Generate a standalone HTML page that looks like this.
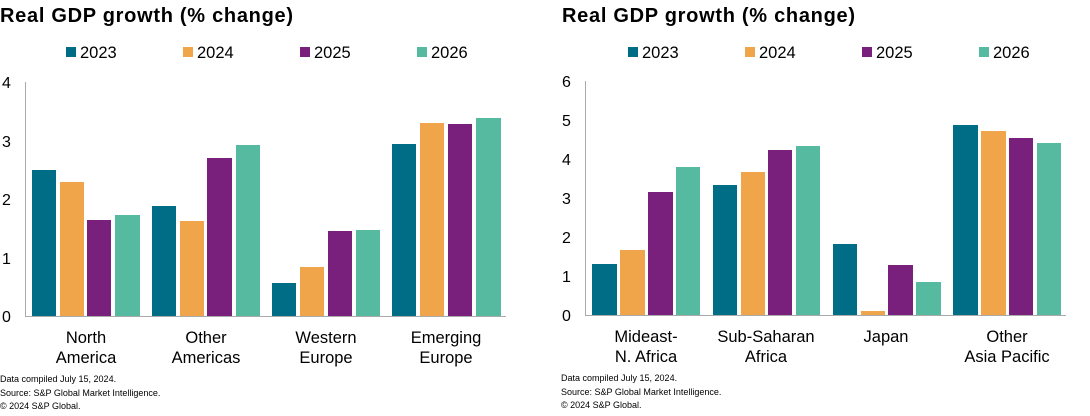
<!DOCTYPE html>
<html><head><meta charset="utf-8"><style>
body{margin:0;background:#fff;}
svg text{font-family:"Liberation Sans",Arial,sans-serif;}
</style></head><body>
<svg width="1090" height="411" xmlns="http://www.w3.org/2000/svg">
<g id="L">
<text x="0" y="22" font-size="20" font-weight="bold" fill="#000" textLength="293" lengthAdjust="spacing">Real GDP growth (% change)</text>
<rect x="66" y="47" width="10" height="10" fill="#006d86"/><text x="80" y="58" font-size="16.5">2023</text>
<rect x="183" y="47" width="10" height="10" fill="#f0a54a"/><text x="197" y="58" font-size="16.5">2024</text>
<rect x="300" y="47" width="10" height="10" fill="#78207c"/><text x="314" y="58" font-size="16.5">2025</text>
<rect x="417" y="47" width="10" height="10" fill="#55baa0"/><text x="431" y="58" font-size="16.5">2026</text>
<g font-size="16" fill="#000">
<text x="2" y="88">4</text><text x="2" y="147">3</text><text x="2" y="205">2</text><text x="2" y="264">1</text><text x="2" y="322">0</text>
</g>
<line x1="25.5" y1="82" x2="25.5" y2="316" stroke="#aaa"/>
<line x1="25" y1="316.5" x2="506" y2="316.5" stroke="#aaa"/>
<g>
<rect x="32" y="170" width="24" height="146" fill="#006d86"/>
<rect x="60" y="182" width="24" height="134" fill="#f0a54a"/>
<rect x="87" y="220" width="24" height="96" fill="#78207c"/>
<rect x="115" y="215" width="25" height="101" fill="#55baa0"/>
<rect x="152" y="206" width="24" height="110" fill="#006d86"/>
<rect x="180" y="221" width="24" height="95" fill="#f0a54a"/>
<rect x="207" y="158" width="25" height="158" fill="#78207c"/>
<rect x="236" y="145" width="24" height="171" fill="#55baa0"/>
<rect x="272" y="283" width="24" height="33" fill="#006d86"/>
<rect x="300" y="267" width="24" height="49" fill="#f0a54a"/>
<rect x="328" y="231" width="24" height="85" fill="#78207c"/>
<rect x="356" y="230" width="24" height="86" fill="#55baa0"/>
<rect x="392" y="144" width="24" height="172" fill="#006d86"/>
<rect x="420" y="123" width="24" height="193" fill="#f0a54a"/>
<rect x="448" y="124" width="24" height="192" fill="#78207c"/>
<rect x="476" y="118" width="25" height="198" fill="#55baa0"/>
</g>
<g font-size="16.5" text-anchor="middle">
<text x="86" y="343">North</text><text x="86" y="363">America</text>
<text x="206" y="343">Other</text><text x="206" y="363">Americas</text>
<text x="326" y="343">Western</text><text x="326" y="363">Europe</text>
<text x="446" y="343">Emerging</text><text x="446" y="363">Europe</text>
</g>
<g font-size="9">
<text x="0" y="382">Data compiled July 15, 2024.</text>
<text x="0" y="396">Source: S&amp;P Global Market Intelligence.</text>
<text x="0" y="409">© 2024 S&amp;P Global.</text>
</g>
</g>
<g>
<text x="562" y="22" font-size="20" font-weight="bold" fill="#000" textLength="293" lengthAdjust="spacing">Real GDP growth (% change)</text>
<rect x="628" y="47" width="10" height="10" fill="#006d86"/><text x="642" y="58" font-size="16.5">2023</text>
<rect x="745" y="47" width="10" height="10" fill="#f0a54a"/><text x="759" y="58" font-size="16.5">2024</text>
<rect x="862" y="47" width="10" height="10" fill="#78207c"/><text x="876" y="58" font-size="16.5">2025</text>
<rect x="979" y="47" width="10" height="10" fill="#55baa0"/><text x="993" y="58" font-size="16.5">2026</text>
<g font-size="16" fill="#000">
<text x="562" y="87">6</text><text x="562" y="126">5</text><text x="562" y="165">4</text><text x="562" y="204">3</text><text x="562" y="243">2</text><text x="562" y="282">1</text><text x="562" y="321">0</text>
</g>
<line x1="585.5" y1="81" x2="585.5" y2="315" stroke="#aaa"/>
<line x1="585" y1="315.5" x2="1066" y2="315.5" stroke="#aaa"/>
<g>
<rect x="592" y="264" width="25" height="51" fill="#006d86"/>
<rect x="620" y="250" width="25" height="65" fill="#f0a54a"/>
<rect x="648" y="192" width="25" height="123" fill="#78207c"/>
<rect x="676" y="167" width="24" height="148" fill="#55baa0"/>
<rect x="713" y="185" width="24" height="130" fill="#006d86"/>
<rect x="741" y="172" width="24" height="143" fill="#f0a54a"/>
<rect x="768" y="150" width="24" height="165" fill="#78207c"/>
<rect x="796" y="146" width="24" height="169" fill="#55baa0"/>
<rect x="833" y="244" width="24" height="71" fill="#006d86"/>
<rect x="861" y="311" width="24" height="4" fill="#f0a54a"/>
<rect x="888" y="265" width="25" height="50" fill="#78207c"/>
<rect x="916" y="282" width="25" height="33" fill="#55baa0"/>
<rect x="953" y="125" width="25" height="190" fill="#006d86"/>
<rect x="981" y="131" width="25" height="184" fill="#f0a54a"/>
<rect x="1009" y="138" width="24" height="177" fill="#78207c"/>
<rect x="1037" y="143" width="24" height="172" fill="#55baa0"/>
</g>
<g font-size="16.5" text-anchor="middle">
<text x="646" y="342">Mideast-</text><text x="646" y="362">N. Africa</text>
<text x="766" y="342">Sub-Saharan</text><text x="766" y="362">Africa</text>
<text x="886" y="342">Japan</text>
<text x="1007" y="342">Other</text><text x="1007" y="362">Asia Pacific</text>
</g>
<g font-size="9">
<text x="561" y="381">Data compiled July 15, 2024.</text>
<text x="561" y="395">Source: S&amp;P Global Market Intelligence.</text>
<text x="561" y="408">© 2024 S&amp;P Global.</text>
</g>
</g>
</svg>
</body></html>
